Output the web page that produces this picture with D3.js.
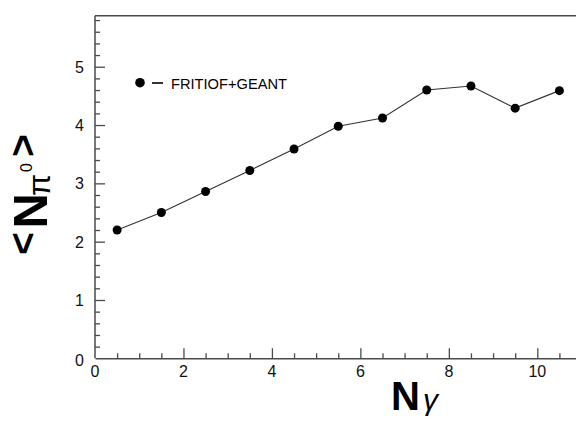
<!DOCTYPE html>
<html>
<head>
<meta charset="utf-8">
<script src="https://cdn.jsdelivr.net/npm/d3@7"></script>
<style>
  body { margin: 0; background: #fff; }
  svg text { font-family: "Liberation Sans", Arial, sans-serif; }
</style>
</head>
<body>
<svg id="chart" width="576" height="423"></svg>
<script>
// multiplicity bins (N gamma) and mean number of pi0
var nGamma = [0.5, 1.5, 2.5, 3.5, 4.5, 5.5, 6.5, 7.5, 8.5, 9.5, 10.5];
var nPi0 = [2.2, 2.5, 2.86, 3.22, 3.59, 3.98, 4.12, 4.6, 4.67, 4.29, 4.59];
var xTicks = [0, 2, 4, 6, 8, 10];
var yTicks = [0, 1, 2, 3, 4, 5];
var legendLabel = "FRITIOF+GEANT";

var svg = d3.select("#chart");
var plotLeft = 95, plotRight = 576, plotTop = 15.7, plotBottom = 358.3;

var x = d3.scaleLinear().domain([0, 10.875]).range([plotLeft, plotRight]);
var y = d3.scaleLinear().domain([0, 5.875]).range([plotBottom, plotTop]);

var axisColor = "#4a4a4a";

// frame top line
svg.append("line")
    .attr("x1", plotLeft).attr("x2", plotRight)
    .attr("y1", plotTop).attr("y2", plotTop)
    .attr("stroke", axisColor).attr("stroke-width", 1.5);

// x axis, ticks pointing inward
var gx = svg.append("g").attr("transform", `translate(0,${plotBottom})`);
gx.call(d3.axisBottom(x).tickValues(d3.range(0, 10.9, 0.5)).tickSizeOuter(0).tickFormat(""));
gx.selectAll(".tick line")
    .attr("y2", d => (d % 2 === 0 ? -10 : -5))
    .attr("stroke", axisColor).attr("stroke-width", 1.3);
gx.selectAll(".tick").filter(d => d === 0).select("line").attr("y2", 0);
gx.select(".domain").attr("stroke", axisColor).attr("stroke-width", 1.5);

svg.append("g").selectAll("text")
    .data(xTicks)
    .enter().append("text")
    .attr("x", d => x(d))
    .attr("y", plotBottom + 19)
    .attr("text-anchor", "middle")
    .attr("font-size", 16)
    .attr("fill", "#111")
    .text(d => d);

// y axis
var gy = svg.append("g").attr("transform", `translate(${plotLeft},0)`);
gy.call(d3.axisLeft(y).tickValues(d3.range(0, 5.81, 0.2)).tickSizeOuter(0).tickFormat(""));
gy.selectAll(".tick line")
    .attr("x2", d => (Math.abs(d - Math.round(d)) < 1e-6 ? 10 : 5))
    .attr("stroke", axisColor).attr("stroke-width", 1.3);
gy.selectAll(".tick").filter(d => d === 0).select("line").attr("x2", 0);
gy.select(".domain").attr("d", `M0,${plotBottom}V${plotTop}`).attr("stroke", axisColor).attr("stroke-width", 1.5);

svg.append("g").selectAll("text")
    .data(yTicks)
    .enter().append("text")
    .attr("x", plotLeft - 11)
    .attr("y", d => y(d) + 6 + (d === 0 ? 2 : 0))
    .attr("text-anchor", "end")
    .attr("font-size", 16)
    .attr("fill", "#111")
    .text(d => d);

// data line + markers
var pts = nGamma.map((g, i) => [g, nPi0[i]]);
svg.append("path")
    .datum(pts)
    .attr("fill", "none")
    .attr("stroke", "#333")
    .attr("stroke-width", 1.1)
    .attr("d", d3.line().x(d => x(d[0])).y(d => y(d[1])));

svg.append("g").selectAll("circle")
    .data(pts)
    .enter().append("circle")
    .attr("cx", d => x(d[0]))
    .attr("cy", d => y(d[1]))
    .attr("r", 4.5)
    .attr("fill", "#000");

// legend
svg.append("circle").attr("cx", 140).attr("cy", 82.7).attr("r", 4.8).attr("fill", "#000");
svg.append("line")
    .attr("x1", 152).attr("x2", 163).attr("y1", 83).attr("y2", 83)
    .attr("stroke", "#000").attr("stroke-width", 1.6);
svg.append("text")
    .attr("x", 171).attr("y", 88.5)
    .attr("font-size", 14.5)
    .attr("textLength", 116)
    .attr("lengthAdjust", "spacingAndGlyphs")
    .attr("fill", "#000")
    .text(legendLabel);

// x title N_gamma
svg.append("text")
    .attr("x", 405.5).attr("y", 410)
    .attr("text-anchor", "middle")
    .attr("font-size", 40).attr("font-weight", "bold")
    .attr("fill", "#000")
    .text("N");
svg.append("text")
    .attr("x", 430.5).attr("y", 410)
    .attr("text-anchor", "middle")
    .attr("font-size", 30)
    .attr("font-style", "italic")
    .attr("font-family", "'Liberation Serif', 'DejaVu Serif', serif")
    .attr("fill", "#000")
    .text("\u03b3");

// y title <N_pi^0>, rotated; glyphs placed one by one
var yt = svg.append("g").attr("transform", "translate(46.7,0) rotate(-90)");
var yParts = [
    {t: "<", u: -243.7, v: -10.5, size: 39, bold: true},
    {t: "N", u: -210.9, v: 0, size: 49, bold: true},
    {t: "\u03c0", u: -185, v: 3.3, size: 32, serif: true},
    {t: "0", u: -167.5, v: -15, size: 16},
    {t: ">", u: -145.5, v: -10.5, size: 39, bold: true}
];
yt.selectAll("text")
    .data(yParts)
    .enter().append("text")
    .attr("x", d => d.u)
    .attr("y", d => d.v)
    .attr("text-anchor", "middle")
    .attr("font-size", d => d.size)
    .attr("font-weight", d => (d.bold ? "bold" : "normal"))
    .attr("font-family", d => (d.serif ? "'Liberation Serif', 'DejaVu Serif', serif" : null))
    .attr("fill", "#000")
    .text(d => d.t);
</script>
</body>
</html>
